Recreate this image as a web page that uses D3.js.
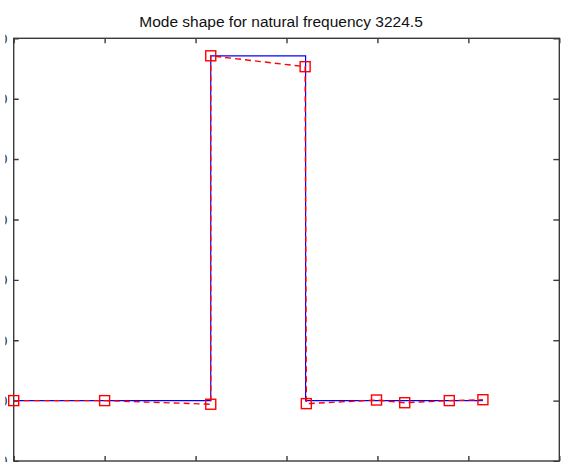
<!DOCTYPE html>
<meta charset="utf-8">
<style>
body { margin: 0; background: #fff; }
svg { display: block; font-family: "Liberation Sans", Arial, sans-serif; }
.frame { fill: none; stroke: #3a3a3a; stroke-width: 1.4px; }
.axis path { display: none; }
.axis line { stroke: #3a3a3a; stroke-width: 1.4px; }
.axis text { font-size: 15px; fill: #222; }
.exact { fill: none; stroke: #0000ff; stroke-width: 1.2px; }
.approx { fill: none; stroke: #ff0000; stroke-width: 1.4px; stroke-dasharray: 6,4; }
.node { fill: none; stroke: #ff0000; stroke-width: 1.4px; }
.title { font-size: 15.5px; fill: #111; }
</style>
<svg width="561" height="462"></svg>
<script src="https://d3js.org/d3.v7.min.js"></script>
<script>
// exact mode shape (blue step line)
var exactX = [0, 2.167, 2.167, 3.21, 3.21, 5.16];
var exactY = [0, 0, 0.571, 0.571, 0, 0];

// computed nodal values (red squares, dashed)
var nodeX = [0, 1.0, 2.167, 2.167, 3.205, 3.218, 3.99, 4.30, 4.79, 5.16];
var nodeY = [0, 0, -0.006, 0.571, 0.553, -0.005, 0.001, -0.0035, 0, 0.0015];

var xTicks = [0, 1, 2, 3, 4, 5, 6];
var yTicks = [-0.1, 0, 0.1, 0.2, 0.3, 0.4, 0.5, 0.6];

var titleText = "Mode shape for natural frequency 3224.5";

var svg = d3.select("svg"),
    width = +svg.attr("width"),
    height = +svg.attr("height");

var margin = {top: 38.3, right: 1.7, bottom: 1, left: 13.7};

var x = d3.scaleLinear()
    .domain([0, 6])
    .range([margin.left, width - margin.right]);

var y = d3.scaleLinear()
    .domain([-0.1, 0.6])
    .range([height - margin.bottom, margin.top]);

// y labels are cut by the figure edge in the original, only a sliver shows
svg.append("defs").append("clipPath")
    .attr("id", "labelclip")
  .append("rect")
    .attr("x", 5.3)
    .attr("y", 0)
    .attr("width", width)
    .attr("height", height);

svg.append("text")
    .attr("class", "title")
    .attr("x", 281)
    .attr("y", 26.5)
    .attr("text-anchor", "middle")
    .text(titleText);

// axes, ticks pointing inward like matlab
svg.append("g")
    .attr("clip-path", "url(#labelclip)")
  .append("g")
    .attr("class", "axis")
    .attr("transform", "translate(" + margin.left + ",0)")
    .call(d3.axisLeft(y).tickValues(yTicks).tickSizeInner(-5).tickSizeOuter(0)
      .tickPadding(6.3).tickFormat(d3.format(".2f")));

svg.append("g")
    .attr("class", "axis")
    .attr("transform", "translate(" + (width - margin.right) + ",0)")
    .call(d3.axisRight(y).tickValues(yTicks).tickSizeInner(-6).tickSizeOuter(0).tickFormat(""));

svg.append("g")
    .attr("class", "axis")
    .attr("transform", "translate(0," + margin.top + ")")
    .call(d3.axisTop(x).tickValues(xTicks).tickSizeInner(-5).tickSizeOuter(0).tickFormat(""));

svg.append("g")
    .attr("class", "axis")
    .attr("transform", "translate(0," + (height - margin.bottom) + ")")
    .call(d3.axisBottom(x).tickValues(xTicks).tickSizeInner(-5).tickSizeOuter(0).tickFormat(""));

svg.append("rect")
    .attr("class", "frame")
    .attr("x", x(0))
    .attr("y", y(0.6))
    .attr("width", x(6) - x(0))
    .attr("height", y(-0.1) - y(0.6));

var line = d3.line()
    .x(function(d) { return x(d[0]); })
    .y(function(d) { return y(d[1]); });

svg.append("path")
    .datum(d3.zip(exactX, exactY))
    .attr("class", "exact")
    .attr("d", line);

var nodes = d3.zip(nodeX, nodeY);

svg.append("path")
    .datum(nodes)
    .attr("class", "approx")
    .attr("d", line);

var s = 10;
svg.selectAll("rect.node")
    .data(nodes)
    .enter().append("rect")
    .attr("class", "node")
    .attr("x", function(d) { return x(d[0]) - s / 2; })
    .attr("y", function(d) { return y(d[1]) - s / 2; })
    .attr("width", s)
    .attr("height", s);
</script>
